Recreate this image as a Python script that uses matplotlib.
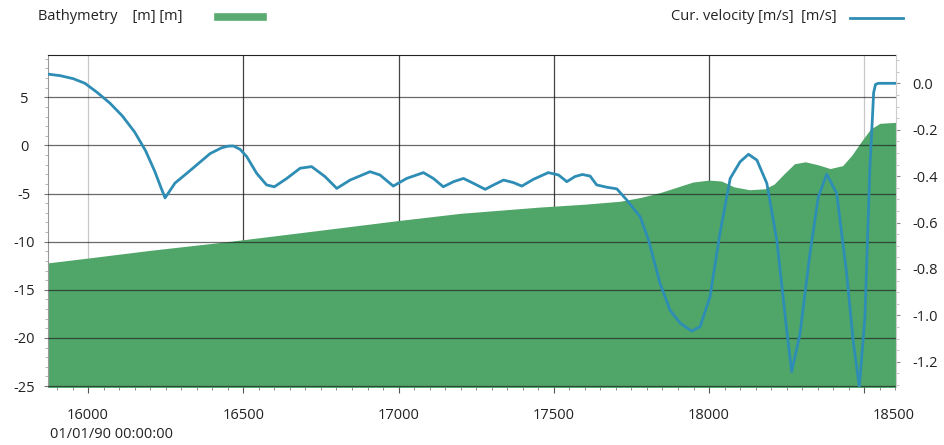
import matplotlib
matplotlib.use("Agg")
import matplotlib.pyplot as plt
from matplotlib.lines import Line2D
from matplotlib.ticker import MultipleLocator
from matplotlib.transforms import ScaledTranslation

plt.rcParams["font.family"] = ["Open Sans", "DejaVu Sans"]
plt.rcParams["font.size"] = 10.5

# --- data ---
bathy_x = [15871, 16000, 16200, 16448, 16700, 17000, 17200, 17456, 17600, 17713,
           17780, 17842, 17900, 17948, 18000, 18040, 18080, 18130, 18180, 18210,
           18240, 18275, 18310, 18350, 18390, 18430, 18460, 18490, 18520, 18550, 18602]
bathy_m = [-12.2, -11.7, -10.9, -10.0, -9.0, -7.8, -7.05, -6.4, -6.1, -5.8,
           -5.4, -4.9, -4.3, -3.8, -3.6, -3.7, -4.3, -4.6, -4.5, -4.0,
           -3.0, -1.9, -1.7, -2.0, -2.4, -2.1, -1.0, 0.4, 1.7, 2.3, 2.4]

vel_x = [15868, 15910, 15952, 15990, 16030, 16070, 16110, 16150, 16185, 16215,
         16235, 16248, 16280, 16318, 16393, 16430, 16450, 16468, 16490, 16511,
         16543, 16575, 16600, 16640, 16683, 16720, 16763, 16801, 16844, 16908,
         16940, 16983, 17026, 17080, 17112, 17144, 17177, 17209, 17241, 17279,
         17306, 17338, 17370, 17397, 17434, 17482, 17515, 17542, 17568, 17592,
         17617, 17638, 17671, 17703, 17735, 17778, 17805, 17842, 17874, 17907,
         17944, 17971, 18003, 18035, 18068, 18100, 18127, 18154, 18186, 18218,
         18250, 18266, 18293, 18325, 18352, 18379, 18411, 18443, 18465, 18484,
         18502, 18518, 18526, 18530, 18536, 18545, 18602]
vel_ms = [0.040, 0.033, 0.020, 0.000, -0.040, -0.085, -0.140, -0.210, -0.290, -0.380,
          -0.450, -0.494, -0.430, -0.388, -0.303, -0.278, -0.271, -0.270, -0.285, -0.316,
          -0.388, -0.438, -0.446, -0.410, -0.366, -0.359, -0.402, -0.453, -0.417, -0.381,
          -0.395, -0.443, -0.410, -0.385, -0.410, -0.446, -0.424, -0.410, -0.431, -0.457,
          -0.438, -0.417, -0.428, -0.443, -0.414, -0.385, -0.395, -0.424, -0.402, -0.393,
          -0.400, -0.438, -0.448, -0.455, -0.503, -0.575, -0.675, -0.862, -0.977, -1.034,
          -1.068, -1.049, -0.920, -0.647, -0.410, -0.338, -0.306, -0.331, -0.431, -0.675,
          -1.063, -1.243, -1.078, -0.733, -0.489, -0.392, -0.474, -0.819, -1.121, -1.308,
          -1.006, -0.359, -0.150, -0.040, -0.005, 0.0, 0.0]

x_ticks = [16000, 16500, 17000, 17500, 18000, 18500]
y_ticks = [5, 0, -5, -10, -15, -20, -25]
v_ticks = [0.0, -0.2, -0.4, -0.6, -0.8, -1.0, -1.2]

green = "#50a569"
teal = "#2e8db5"
txt = "#222222"

fig = plt.figure(figsize=(9.44, 4.45), dpi=100)
ax = fig.add_axes([48 / 944, 1 - 387 / 445, 848 / 944, 332 / 445])
ax.set_xlim(15871, 18602)
ax.set_ylim(-25.1, 9.4)

# vertical grid under the fill, horizontal grid on top of it
for i, xt in enumerate(x_ticks):
    c = "#c8c8c8" if i in (0, len(x_ticks) - 1) else "#444444"
    ax.axvline(xt, color=c, lw=0.9, zorder=0.5)
ax.fill_between(bathy_x, bathy_m, -30, color=green, lw=0, zorder=1)
for yt in y_ticks:
    ax.axhline(yt, color="#1a1a1a", lw=0.9, alpha=0.65, zorder=3)

ax.set_xticks(x_ticks)
ax.set_yticks(y_ticks)
ax.xaxis.set_minor_locator(MultipleLocator(50))
ax.yaxis.set_minor_locator(MultipleLocator(1))
ax.tick_params(axis="x", which="major", length=4, pad=11, colors="#555555", labelcolor=txt)
ax.tick_params(axis="x", which="minor", length=2, colors="#777777")
ax.tick_params(axis="y", which="major", length=3, pad=14, colors="#777777", labelcolor=txt)
ax.tick_params(axis="y", which="minor", length=2, colors="#aaaaaa")
ax.set_yticklabels([str(v) for v in y_ticks])
for lab in ax.get_yticklabels():
    lab.set_horizontalalignment("center")
ax.set_xticklabels([str(v) for v in x_ticks])
last = ax.get_xticklabels()[-1]
last.set_transform(last.get_transform() + ScaledTranslation(29 / 100, 0, fig.dpi_scale_trans))

ax.spines["bottom"].set_visible(False)
ax.spines["top"].set_color("#222222")
ax.spines["left"].set_color("#999999")
ax.spines["right"].set_visible(False)

# current velocity on the right axis
ax2 = ax.twinx()
ax2.set_ylim(-1.309, 0.122)
ax2.plot(vel_x, vel_ms, color=teal, lw=2, solid_joinstyle="round", zorder=5)
ax2.set_yticks(v_ticks)
ax2.set_yticklabels([f"{v:.1f}" for v in v_ticks])
ax2.yaxis.set_minor_locator(MultipleLocator(0.05))
ax2.tick_params(axis="y", which="major", length=3, pad=9, colors="#888888", labelcolor=txt)
ax2.tick_params(axis="y", which="minor", length=2, colors="#bbbbbb")
for side in ("top", "bottom", "left"):
    ax2.spines[side].set_visible(False)
ax2.spines["right"].set_color("#cccccc")

# legend header
fig.text(38 / 944, 1 - 17 / 445, "Bathymetry    [m] [m]", color=txt, va="center")
fig.add_artist(Line2D([218 / 944, 263 / 944], [1 - 17 / 445] * 2,
                      transform=fig.transFigure, color="#5aab72", lw=5.5))
fig.text(837 / 944, 1 - 17 / 445, "Cur. velocity [m/s]  [m/s]", color=txt,
         va="center", ha="right")
fig.add_artist(Line2D([850 / 944, 903 / 944], [1 - 18 / 445] * 2,
                      transform=fig.transFigure, color=teal, lw=2))

fig.text(50 / 944, 1 - 435 / 445, "01/01/90 00:00:00", color=txt, va="center")

fig.savefig("out.png", dpi=100)
